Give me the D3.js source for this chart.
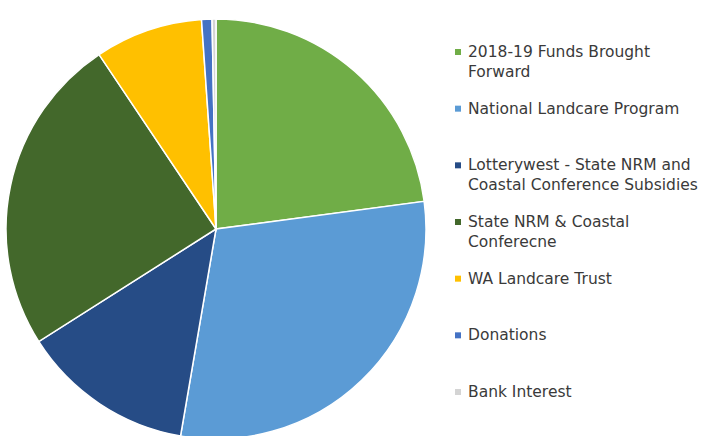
<!DOCTYPE html>
<html lang="en">
<head>
    <meta charset="UTF-8">
    <title>Income</title>
    <script src="https://cdnjs.cloudflare.com/ajax/libs/d3/7.9.0/d3.min.js"></script>
    <style>
        body { margin: 0; background: #fff; }
    </style>
</head>
<body>
<svg id="chart" width="706" height="436"></svg>
<script>
    // share of income (percent)
    const categories = [
        "2018-19 Funds Brought Forward",
        "National Landcare Program",
        "Lotterywest - State NRM and Coastal Conference Subsidies",
        "State NRM & Coastal Conferecne",
        "WA Landcare Trust",
        "Donations",
        "Bank Interest"
    ];
    const values = [22.9, 29.8, 13.3, 24.6, 8.3, 0.8, 0.3];
    // legend text, wrapped the way the reference wraps it
    const legendLines = [
        ["2018-19 Funds Brought", "Forward"],
        ["National Landcare Program"],
        ["Lotterywest - State NRM and", "Coastal Conference Subsidies"],
        ["State NRM & Coastal", "Conferecne"],
        ["WA Landcare Trust"],
        ["Donations"],
        ["Bank Interest"]
    ];
    const colors = ["#70AD47", "#5B9BD5", "#264C86", "#43682B", "#FFC000", "#4472C4", "#D4D4D4"];

    const svg = d3.select("#chart");
    const cx = 216, cy = 229, r = 210;

    const color = d3.scaleOrdinal().domain(categories).range(colors);

    const pie = d3.pie().sort(null).value(function (d, i) { return values[i]; });
    const arc = d3.arc().innerRadius(0).outerRadius(r);

    const g = svg.append("g").attr("transform", `translate(${cx},${cy})`);

    g.selectAll("path")
        .data(pie(categories))
        .enter().append("path")
        .attr("d", arc)
        .attr("fill", function (d) { return color(d.data); })
        .attr("stroke", "#fff")
        .attr("stroke-width", 1.5);

    // legend
    const legendY = d3.scaleLinear().domain([0, categories.length - 1]).range([57, 397]);

    const item = svg.append("g")
        .selectAll("g")
        .data(categories)
        .enter().append("g")
        .attr("transform", function (d, i) { return `translate(455,${legendY(i)})`; });

    item.append("rect")
        .attr("x", 0)
        .attr("y", -8)
        .attr("width", 6)
        .attr("height", 6)
        .attr("fill", function (d) { return color(d); });

    item.append("text")
        .attr("x", 13)
        .attr("font-family", "'DejaVu Sans', sans-serif")
        .attr("font-size", 15.5)
        .attr("fill", "#3a3a3a")
        .selectAll("tspan")
        .data(function (d, i) { return legendLines[i]; })
        .enter().append("tspan")
        .attr("x", 13)
        .attr("dy", function (d, j) { return j === 0 ? 0 : 20; })
        .text(function (d) { return d; });
</script>
</body>
</html>
